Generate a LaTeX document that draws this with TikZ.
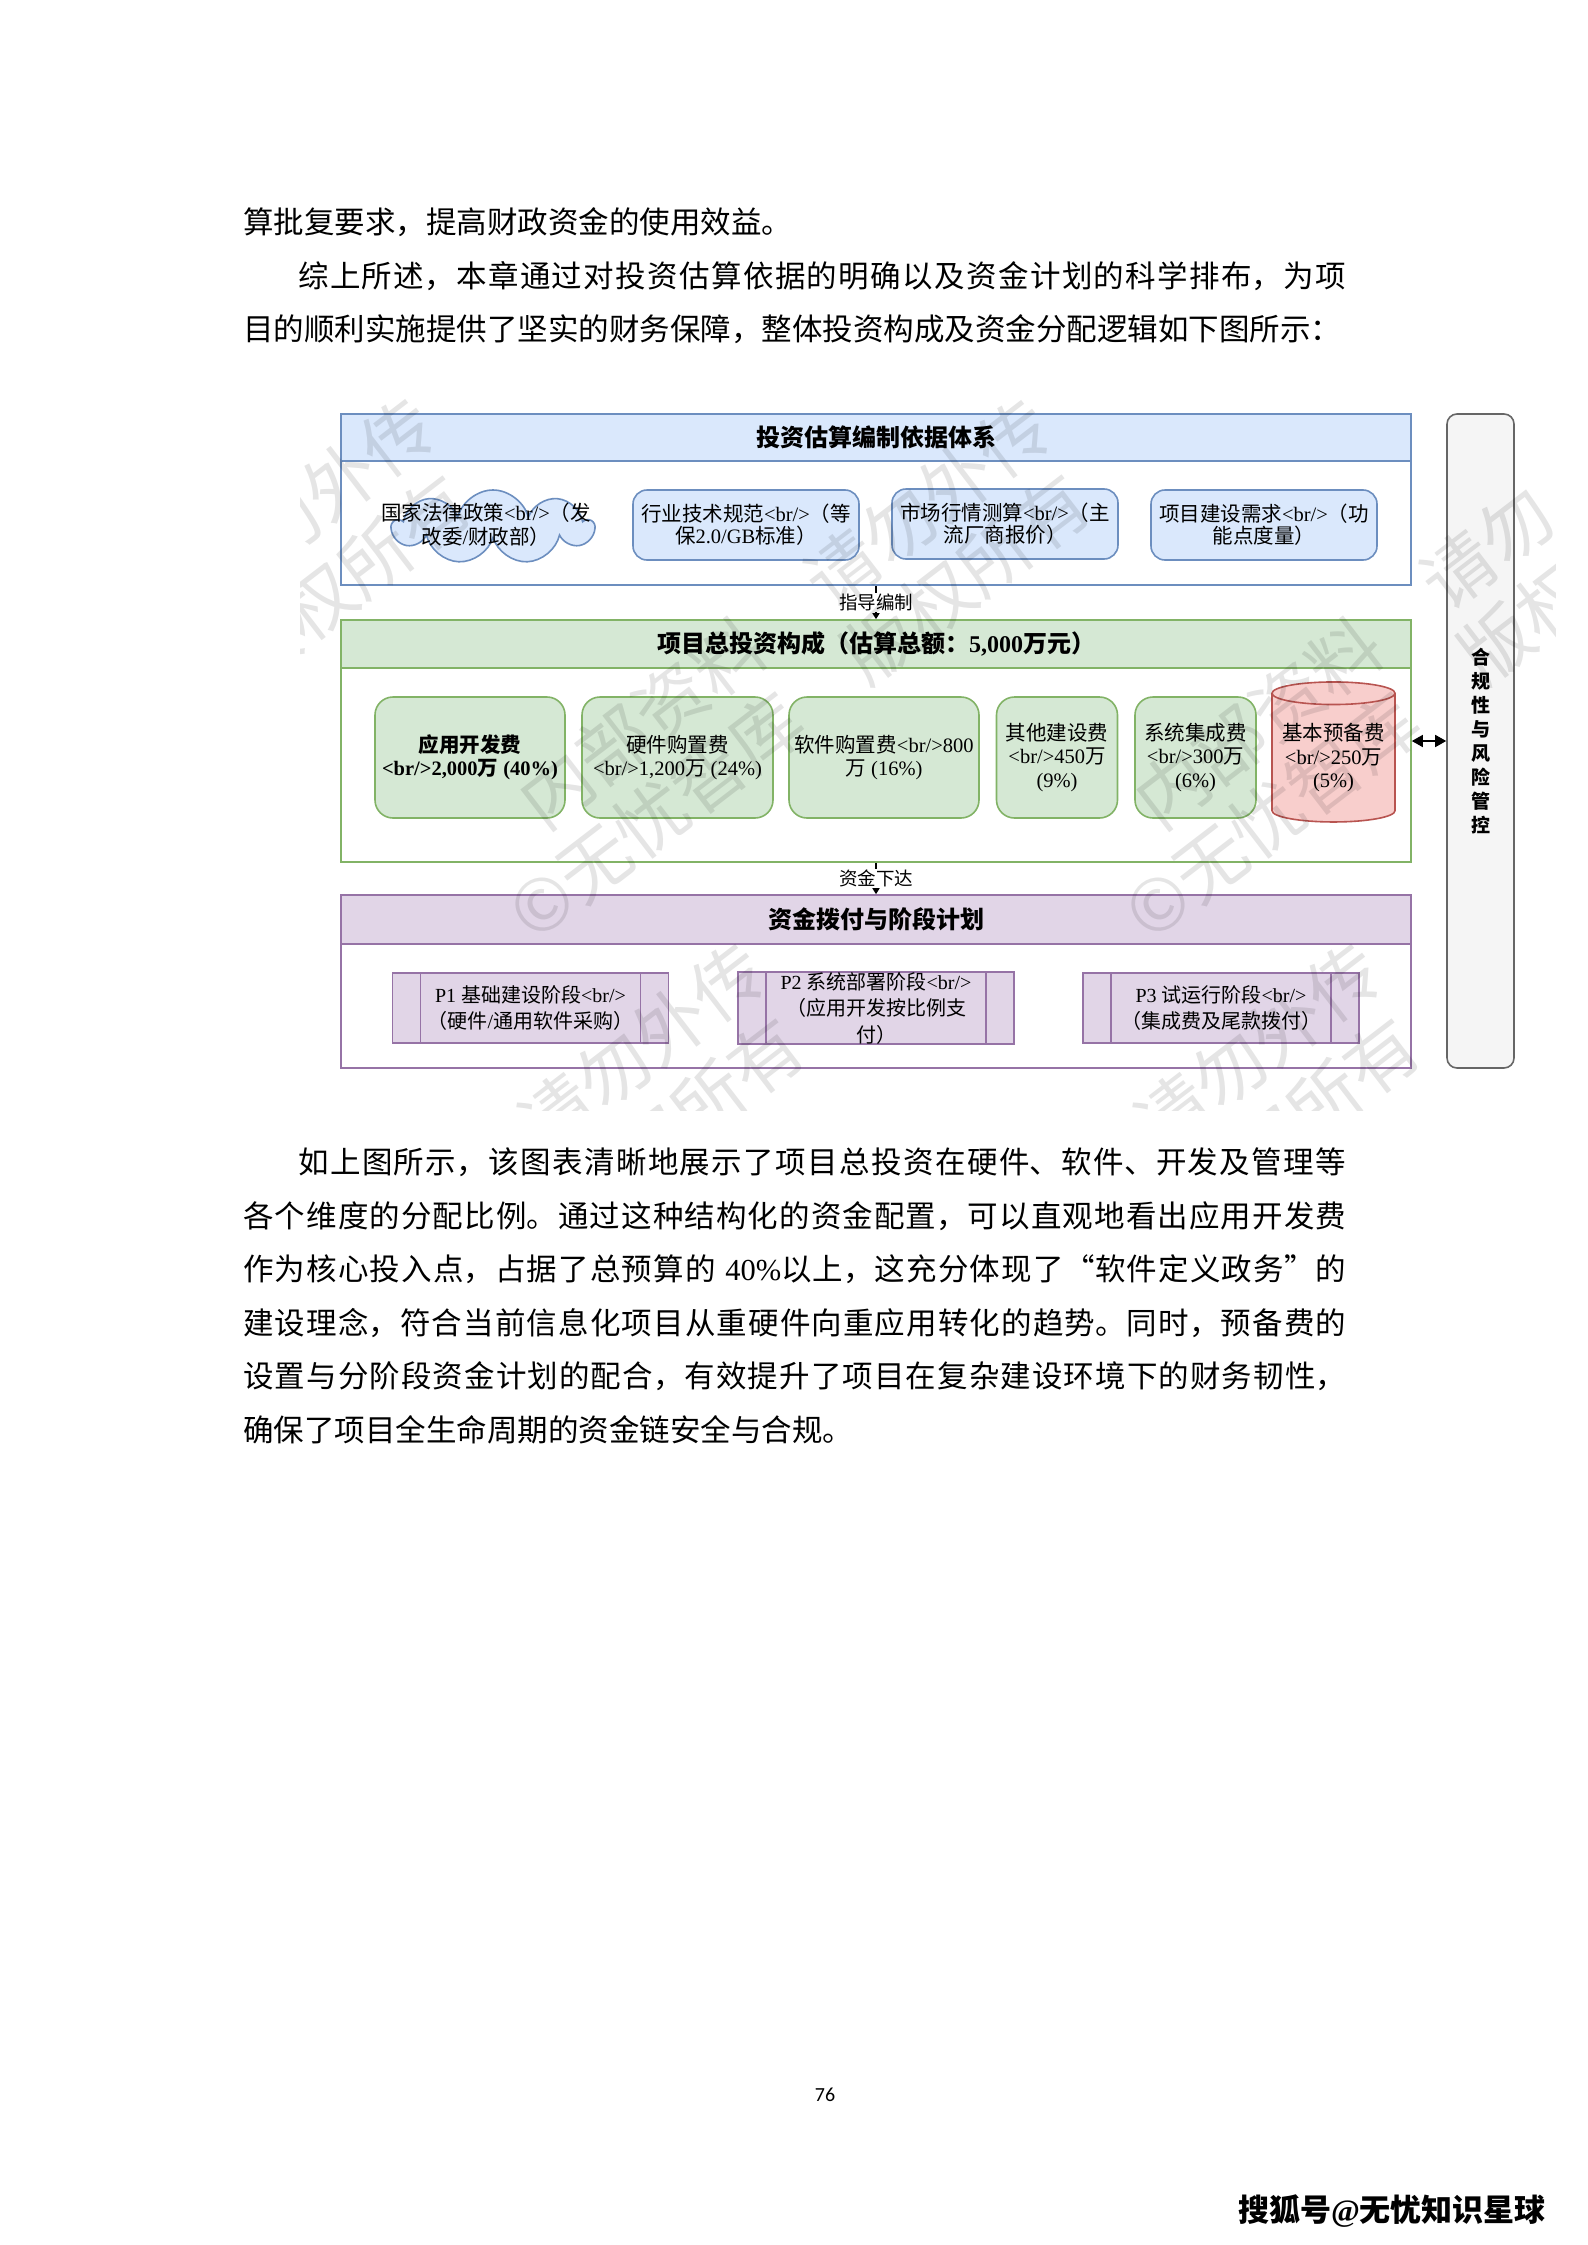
\documentclass[tikz,border=0pt]{standalone}
\usepackage{fontspec}
\usepackage{tikz}
\usepackage{xcolor}
\usetikzlibrary{shapes.symbols,shapes.geometric,arrows.meta,positioning}

\setmainfont{Liberation Serif}
\newfontfamily\cjkfont{Noto Sans CJK SC}
\newfontfamily\latinfont{Liberation Serif}
\newfontfamily\pagefont{Carlito}

% Chinese characters go to the CJK font, the rest stays in Liberation Serif
\XeTeXinterchartokenstate=1
\newXeTeXintercharclass\cjkclass
\newcount\cjkcount
\newcommand\cjkrange[2]{%
  \cjkcount=#1\relax
  \loop
    \XeTeXcharclass\cjkcount=\cjkclass
  \ifnum\cjkcount<#2\relax
    \advance\cjkcount by 1
  \repeat}
\cjkrange{"4E00}{"9FFF}
\cjkrange{"3000}{"303F}
\cjkrange{"FF00}{"FFEF}
\cjkrange{"201C}{"201D}
\XeTeXinterchartoks 0 \cjkclass = {\cjkfont}
\XeTeXinterchartoks 4095 \cjkclass = {\cjkfont}
\XeTeXinterchartoks \cjkclass 0 = {\latinfont}
\XeTeXinterchartoks \cjkclass 4095 = {\latinfont}
\XeTeXlinebreaklocale "zh"
\XeTeXlinebreakskip=0pt plus 2pt

\definecolor{basisfill}{RGB}{218,232,252}
\definecolor{basisline}{RGB}{108,142,191}
\definecolor{costfill}{RGB}{213,232,212}
\definecolor{costline}{RGB}{130,179,102}
\definecolor{phasefill}{RGB}{225,213,231}
\definecolor{phaseline}{RGB}{150,115,166}
\definecolor{reservefill}{RGB}{248,206,204}
\definecolor{reserveline}{RGB}{184,84,80}
\definecolor{riskfill}{RGB}{245,245,245}
\definecolor{riskline}{RGB}{102,102,102}

\tikzset{
  bodytext/.style={anchor=north west, inner sep=0pt, text width=1103pt, align=justify,
    font=\fontsize{30.5}{53.5}\selectfont},
  lanebody/.style={draw, fill=white, line width=1.6pt, minimum width=1070pt, inner sep=0pt},
  lanehead/.style={draw, line width=1.6pt, minimum width=1070pt, inner sep=0pt,
    font=\bfseries\fontsize{24}{28}\selectfont},
  policycloud/.style={cloud, cloud puffs=9, cloud ignores aspect, draw=basisline, fill=basisfill,
    line width=1.6pt, minimum width=200pt, minimum height=74pt, inner sep=0pt,
    font=\fontsize{20.5}{22}\selectfont},
  basisbox/.style={draw=basisline, fill=basisfill, rounded corners=14pt, line width=1.6pt,
    minimum width=226pt, minimum height=70pt, inner sep=0pt, align=center,
    font=\fontsize{20.5}{22}\selectfont},
  costbox/.style={draw=costline, fill=costfill, rounded corners=18pt, line width=1.6pt,
    minimum height=121pt, inner sep=0pt, align=center, font=\fontsize{20.5}{23.5}\selectfont},
  reservebox/.style={cylinder, shape border rotate=90, aspect=0.22, draw=reserveline,
    fill=reservefill, line width=1.6pt, minimum width=123pt, minimum height=140pt,
    inner sep=0pt, align=center, font=\fontsize{20.5}{23.5}\selectfont},
  phasebox/.style={draw=phaseline, fill=phasefill, line width=1.6pt, minimum width=276pt,
    minimum height=70pt, inner sep=0pt, align=center, font=\fontsize{20}{26.5}\selectfont,
    path picture={\draw[phaseline, line width=1.6pt]
      ([xshift=28pt]path picture bounding box.north west) -- ([xshift=28pt]path picture bounding box.south west)
      ([xshift=-28pt]path picture bounding box.north east) -- ([xshift=-28pt]path picture bounding box.south east);}},
  flow/.style={line width=1.6pt, -{Triangle[length=6pt,width=7pt]}},
  flowlabel/.style={fill=white, inner sep=1pt, font=\fontsize{18.5}{20}\selectfont},
  watermark/.style={text=black, text opacity=0.1, rotate=37.5, inner sep=0pt,
    font=\cjkfont\fontsize{72}{72}\selectfont}
}

\begin{document}
\begin{tikzpicture}[x=1pt, y=-1pt]
  \useasboundingbox (0,0) rectangle (1587,2245);
  \fill[white] (0,0) rectangle (1587,2245);

  % Text above the figure
  \node[bodytext] (para1) at (243,207) {算批复要求，提高财政资金的使用效益。};
  \node[bodytext] (para2) at (243,261) {\hspace*{55pt}综上所述，本章通过对投资估算依据的明确以及资金计划的科学排布，为项\linebreak 目的顺利实施提供了坚实的财务保障，整体投资构成及资金分配逻辑如下图所示：};

  % Basis lane
  \node[lanebody, draw=basisline, minimum height=171pt] (basis) at (876,499.5) {};
  \node[lanehead, draw=basisline, fill=basisfill, minimum height=47pt] (basis-head) at (876,437.5) {投资估算编制依据体系};
  \node[policycloud] (policy) at (493,527) {\makebox[0pt]{\hspace*{-14pt}\begin{tabular}{@{}c@{}}国家法律政策<br/>（发\\改委/财政部）\end{tabular}}};
  \node[basisbox] (norm) at (746,525) {行业技术规范<br/>（等\\保2.0/GB标准）};
  \node[basisbox] (market) at (1005,524) {市场行情测算<br/>（主\\流厂商报价）};
  \node[basisbox] (demand) at (1264,525) {项目建设需求<br/>（功\\能点度量）};

  % Cost lane
  \node[lanebody, draw=costline, minimum height=242pt] (cost) at (876,741) {};
  \node[lanehead, draw=costline, fill=costfill, minimum height=48pt] (cost-head) at (876,644) {项目总投资构成（估算总额：5,000万元）};
  \node[costbox, minimum width=190pt, font=\bfseries\fontsize{20.5}{23.5}\selectfont] (appdev) at (470,757.5) {应用开发费\\<br/>2,000万 (40\%)};
  \node[costbox, minimum width=191pt] (hardware) at (677.5,757.5) {硬件购置费\\<br/>1,200万 (24\%)};
  \node[costbox, minimum width=190pt] (software) at (884,757.5) {软件购置费<br/>800\\万 (16\%)};
  \node[costbox, minimum width=121pt] (other) at (1057,757.5) {其他建设费\\<br/>450万\\(9\%)};
  \node[costbox, minimum width=121pt] (integration) at (1195.5,757.5) {系统集成费\\<br/>300万\\(6\%)};
  \node[reservebox] (reserve) at (1333.5,758) {基本预备费\\<br/>250万\\(5\%)};

  % Phase lane
  \node[lanebody, draw=phaseline, minimum height=173pt] (phase) at (876,981.5) {};
  \node[lanehead, draw=phaseline, fill=phasefill, minimum height=49pt] (phase-head) at (876,919.5) {资金拨付与阶段计划};
  \node[phasebox] (phase1) at (530.5,1008) {P1 基础建设阶段<br/>\\（硬件/通用软件采购）};
  \node[phasebox] (phase2) at (876,1008) {P2 系统部署阶段<br/>\\（应用开发按比例支\\付）};
  \node[phasebox] (phase3) at (1221,1008) {P3 试运行阶段<br/>\\（集成费及尾款拨付）};

  % Compliance bar
  \node[draw=riskline, fill=riskfill, rounded corners=10pt, line width=1.6pt, minimum width=67pt,
    minimum height=654pt, inner sep=0pt, align=center, font=\bfseries\fontsize{19}{24}\selectfont]
    (risk) at (1480.5,741) {合\\规\\性\\与\\风\\险\\管\\控};

  % Arrows between the lanes
  \draw[flow] (basis.south) -- (cost-head.north) node[flowlabel, midway] (guide) {指导编制};
  \draw[flow] (cost.south) -- (phase-head.north) node[flowlabel, midway] (funding) {资金下达};
  \draw[line width=1.6pt, {Triangle[length=11pt,width=12pt]}-{Triangle[length=11pt,width=12pt]}] (cost.east) -- (risk.west);

  % Watermark
  \begin{scope}
    \clip (300,370) rectangle (1555,1110);
    \node[watermark] (wm1) at (312,503) {请勿外传};
    \node[watermark] (wm2) at (347,580) {版权所有};
    \node[watermark] (wm3) at (785,613) {内部资料\hspace{1em}请勿外传};
    \node[watermark] (wm4) at (799,706) {©无忧智库\hspace{1em}版权所有};
    \node[watermark] (wm5) at (1344,657) {内部资料\hspace{1em}请勿};
    \node[watermark] (wm6) at (1358,750) {©无忧智库\hspace{1em}版权};
    \node[watermark] (wm7) at (499,1157) {内部资料\hspace{1em}请勿外传};
    \node[watermark] (wm8) at (513,1250) {©无忧智库\hspace{1em}版权所有};
    \node[watermark] (wm9) at (1115,1157) {内部资料\hspace{1em}请勿外传};
    \node[watermark] (wm10) at (1129,1250) {©无忧智库\hspace{1em}版权所有};
  \end{scope}

  % Text below the figure
  \node[bodytext] (para3) at (243,1148) {\hspace*{55pt}如上图所示，该图表清晰地展示了项目总投资在硬件、软件、开发及管理等\linebreak 各个维度的分配比例。通过这种结构化的资金配置，可以直观地看出应用开发费\linebreak 作为核心投入点，占据了总预算的 40\%以上，这充分体现了“软件定义政务”的\linebreak 建设理念，符合当前信息化项目从重硬件向重应用转化的趋势。同时，预备费的\linebreak 设置与分阶段资金计划的配合，有效提升了项目在复杂建设环境下的财务韧性，\linebreak 确保了项目全生命周期的资金链安全与合规。};

  % Page number and source
  \node[inner sep=0pt, font=\pagefont\fontsize{20}{20}\selectfont] (pageno) at (825,2095) {76};
  \node[inner sep=0pt, font=\cjkfont\bfseries\fontsize{31}{31}\selectfont] (sohu) at (1392,2211) {搜狐号@无忧知识星球};
\end{tikzpicture}
\end{document}
